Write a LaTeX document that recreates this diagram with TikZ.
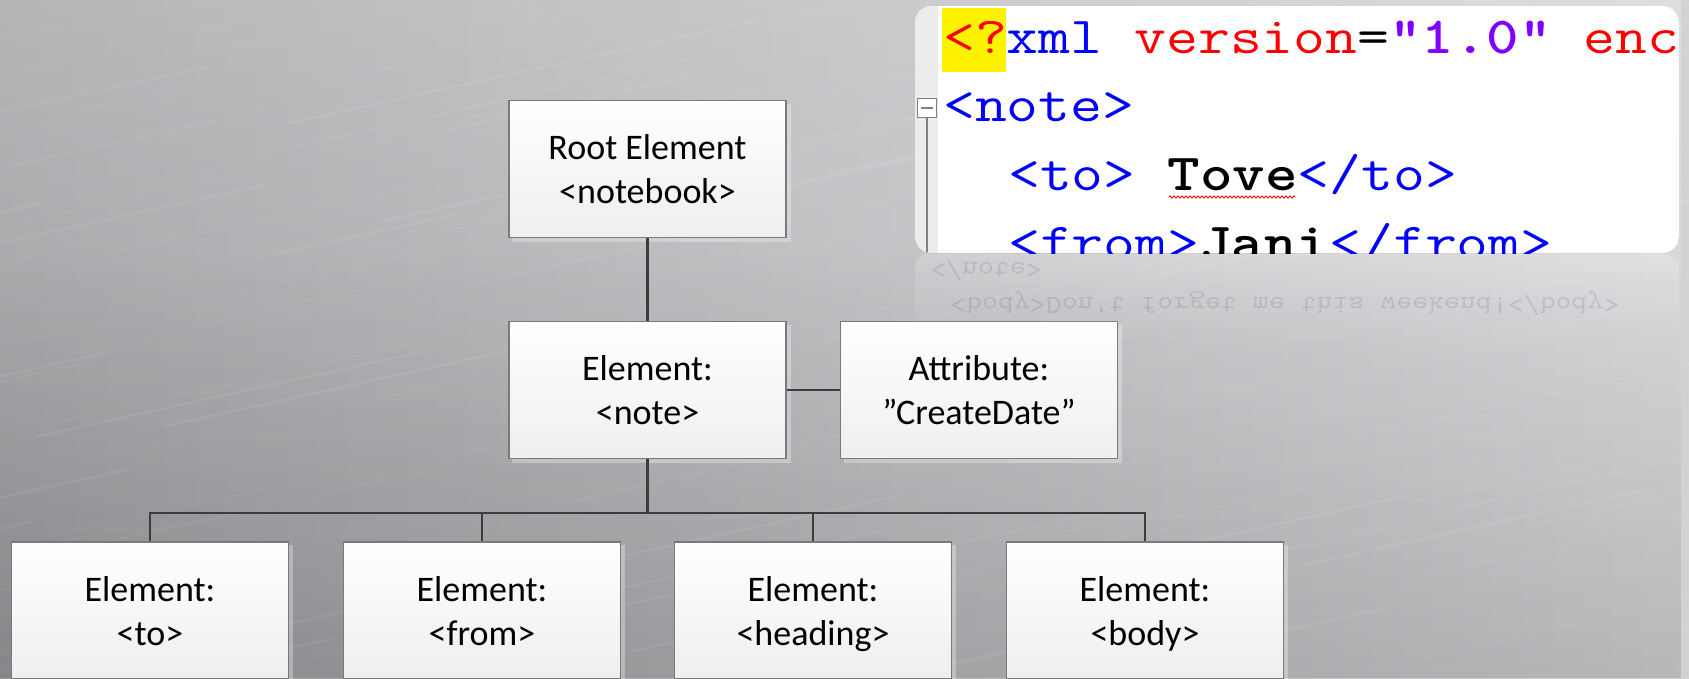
\documentclass[tikz,border=0pt]{standalone}
\usepackage{fontspec}
\setmainfont{Carlito}
\usetikzlibrary{fadings,backgrounds,decorations.pathmorphing}
\definecolor{bgL}{HTML}{9A9A9E}
\definecolor{bgR}{HTML}{D2D2D5}
\definecolor{linec}{HTML}{3C3C3C}
\definecolor{boxborder}{HTML}{7A7A7A}
\definecolor{xmlred}{HTML}{FF0000}
\definecolor{xmlblue}{HTML}{0000FF}
\definecolor{xmlpurple}{HTML}{8000FF}
\definecolor{gutter}{HTML}{ECECEC}
\definecolor{reflect}{HTML}{50508C}
\begin{document}
\begin{tikzpicture}[x=1pt,y=-1pt,
  box/.style={draw=boxborder, line width=1.2pt, top color=white, bottom color=gray!13,
    minimum width=277pt, minimum height=137pt, inner sep=0pt, align=center,
    text depth=0pt, font=\fontsize{36}{44}\selectfont},
  shadowbox/.style={fill=white, opacity=0.3},
  conn/.style={draw=linec, line width=2.2pt},
  code/.style={anchor=base west, inner sep=0pt, xscale=1.19, font=\ttfamily\fontsize{52}{52}\selectfont},
  refl/.style={anchor=base west, inner sep=0pt, yscale=-1, xscale=1.19, text=reflect, text opacity=0.17,
    font=\ttfamily\fontsize{26}{26}\selectfont}]
\useasboundingbox (0,0) rectangle (1689,678);
\clip (0,0) rectangle (1689,678);

% background
\begin{scope}[on background layer]
  \shade[left color=bgL, right color=bgR] (0,0) rectangle (1689,678);
  \fill[white, opacity=0.28, path fading=south] (0,0) rectangle (1689,678);
  \fill[black, opacity=0.12, path fading=north] (0,250) rectangle (1689,678);
  \pgfmathsetseed{7}
  \foreach \i in {1,...,160} {
    \pgfmathsetmacro\xa{rnd*2000-300}
    \pgfmathsetmacro\ya{rnd*800}
    \pgfmathsetmacro\len{rnd*350+120}
    \pgfmathsetmacro\lw{rnd*2.5+0.6}
    \pgfmathsetmacro\op{rnd*0.06+0.02}
    \draw[white, opacity=\op, line width=\lw pt] (\xa,\ya) -- ++(\len,-0.22*\len);
  }
\end{scope}

% boxes
\node[box] (root) at (647.5,169) {Root Element\\<notebook>};
\node[box] (note) at (647.5,390) {Element:\\<note>};
\node[box] (attr) at (979,390) {Attribute:\\”CreateDate”};
\node[box] (to) at (150,610.5) {Element:\\<to>};
\node[box] (from) at (482,610.5) {Element:\\<from>};
\node[box] (heading) at (813,610.5) {Element:\\<heading>};
\node[box] (body) at (1145,610.5) {Element:\\<body>};

% shadows
\begin{scope}[on background layer]
  \foreach \n in {root,note,attr,to,from,heading,body} {
    \fill[shadowbox] ([shift={(4,4)}]\n.north west) rectangle ([shift={(4,4)}]\n.south east);
  }
\end{scope}

% connectors
\coordinate (bus) at (647.5,513);
\draw[conn] (root.south) -- (note.north);
\draw[conn] (note.east) -- (attr.west);
\draw[conn] (note.south) -- (bus);
\draw[conn] (to.north) -- (to.north |- bus) -- (body.north |- bus) -- (body.north);
\draw[conn] (from.north) -- (from.north |- bus);
\draw[conn] (heading.north) -- (heading.north |- bus);

% code panel
\begin{scope}
  \clip[rounded corners=17pt] (915,6) rectangle (1679,253);
  \fill[white] (915,6) rectangle (1679,253);
  \fill[gutter] (915,6) rectangle (938,253);
  \draw[gray, line width=1.5pt] (927,118) -- (927,253);
  \fill[yellow] (942,8) rectangle (1006,72);
  \node[code] (l1) at (943,53) {\textcolor{xmlred}{<?}\textcolor{xmlblue}{xml} \textcolor{xmlred}{version}=\textcolor{xmlpurple}{\bfseries"1.0"} \textcolor{xmlred}{enc}};
  \node[code] (l2) at (943,121) {\textcolor{xmlblue}{<note>}};
  \node[code] (l3) at (1008,190) {\textcolor{xmlblue}{<to>} {\bfseries Tove}\textcolor{xmlblue}{</to>}};
  \node[code] (l4) at (1008,259) {\textcolor{xmlblue}{<from>}{\bfseries Jani}\textcolor{xmlblue}{</from>}};
  \draw[red, line width=0.8pt, decorate, decoration={zigzag, segment length=4pt, amplitude=1.2pt}] (1169,197) -- (1295,197);
\end{scope}
\node[draw=gray, fill=white, line width=1pt, minimum size=19pt, inner sep=0pt] (fold) at (927,108) {};
\draw[gray, line width=1.2pt] ([xshift=4pt]fold.west) -- ([xshift=-4pt]fold.east);

% reflection
\begin{scope}
  \clip (915,254) rectangle (1679,345);
  \fill[white, opacity=0.2, path fading=south, rounded corners=12pt] (915,254) rectangle (1679,345);
  \node[refl] (r1) at (930,262) {</note>};
  \node[refl] (r2) at (950,297) {<body>Don't forget me this weekend!</body>};
\end{scope}
\end{tikzpicture}
\end{document}
